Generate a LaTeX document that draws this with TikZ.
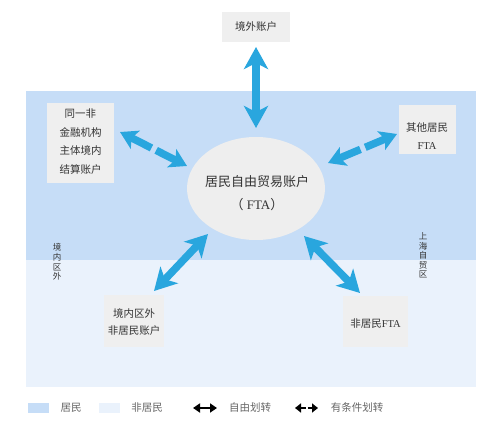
\documentclass[tikz,border=0pt]{standalone}
\usepackage{fontspec}
\setmainfont{Noto Sans CJK SC}
\newfontfamily\latinserif{Liberation Serif}
\usetikzlibrary{arrows.meta,calc,shapes.geometric}
\definecolor{resblue}{HTML}{C6DDF7}
\definecolor{nonres}{HTML}{EAF2FC}
\definecolor{boxgray}{HTML}{EFEFEF}
\definecolor{ellgray}{HTML}{EEEEEE}
\definecolor{arrowblue}{HTML}{29A6DE}
\definecolor{txt}{HTML}{333333}
\definecolor{legtxt}{HTML}{666666}
\begin{document}
\begin{tikzpicture}[x=1pt,y=-1pt,
  acctbox/.style={fill=boxgray,inner sep=0pt,draw=none},
  lbl/.style={text=txt,font=\fontsize{10.5}{18.5}\selectfont,align=center,inner sep=0pt},
  vlbl/.style={text=txt,font=\fontsize{8.5}{9.6}\selectfont,align=center,inner sep=0pt},
  legl/.style={text=legtxt,font=\fontsize{10.5}{12}\selectfont,inner sep=0pt},
  bigarrow/.style={draw=arrowblue,line width=7.5pt,
     {Stealth[length=22pt,width=24pt,inset=6pt]}-{Stealth[length=22pt,width=24pt,inset=6pt]}},
  halfarrow/.style={draw=arrowblue,line width=7.5pt,
     -{Stealth[length=17pt,width=20pt,inset=4pt]}},
  legarrow/.style={draw=black,line width=2.6pt,
     {Triangle[length=7pt,width=9pt]}-{Triangle[length=7pt,width=9pt]}},
  leghalf/.style={draw=black,line width=2.6pt,-{Triangle[length=6pt,width=9pt]}}
]
\useasboundingbox (0,0) rectangle (493,431);
\fill[white] (0,0) rectangle (493,431);
% regions
\fill[resblue] (26,91) rectangle (476,260);
\fill[nonres] (26,260) rectangle (476,387);

% account boxes
\node[acctbox,minimum width=68pt,minimum height=30pt] (topbox) at (256,27) {};
\node[lbl] (toptxt) at (256,26.5) {境外账户};

\node[acctbox,minimum width=67pt,minimum height=80pt] (leftbox) at (80.5,143) {};
\node[lbl] (lefttxt) at (80.5,141.5) {同一非\\金融机构\\主体境内\\结算账户};

\node[acctbox,minimum width=57pt,minimum height=49pt] (rightbox) at (427.5,129.5) {};
\node[lbl,font=\fontsize{10.5}{18}\selectfont] (righttxt) at (427,136) {其他居民\\{\latinserif FTA}};

\node[acctbox,minimum width=60pt,minimum height=52pt] (blbox) at (134,321) {};
\node[lbl,font=\fontsize{10.5}{16.5}\selectfont] (bltxt) at (134,322) {境内区外\\非居民账户};

\node[acctbox,minimum width=65pt,minimum height=51pt] (brbox) at (375.5,321.5) {};
\node[lbl] (brtxt) at (375.5,324) {非居民{\latinserif FTA}};

% central ellipse
\node[fill=ellgray,ellipse,minimum width=138pt,minimum height=103pt,inner sep=0pt] (ell) at (256,188.5) {};
\node[text=txt,font=\fontsize{13}{23}\selectfont,align=center,inner sep=0pt] (elltxt) at (257,193.5)
  {居民自由贸易账户\\（{\latinserif\ FTA}）};

% region labels (stacked)
\node[vlbl] (inlbl) at (57,262) {境\\内\\区\\外};
\node[vlbl] (ftzlbl) at (423,255.5) {上\\海\\自\\贸\\区};

% free transfer arrows
\coordinate (a1) at (256,47);  \coordinate (a2) at (256,128);
\draw[bigarrow] (a1) -- (a2);
\coordinate (b1) at (208,234); \coordinate (b2) at (154,291);
\draw[bigarrow] (b1) -- (b2);
\coordinate (c1) at (304,236); \coordinate (c2) at (360,293);
\draw[bigarrow] (c1) -- (c2);

% conditional transfer arrows
\coordinate (d1) at (120,132); \coordinate (d2) at (187,166);
\draw[halfarrow] ($(d1)!0.47!(d2)$) -- (d1);
\draw[halfarrow] ($(d1)!0.54!(d2)$) -- (d2);
\coordinate (e1) at (328,163); \coordinate (e2) at (397,134);
\draw[halfarrow] ($(e1)!0.47!(e2)$) -- (e1);
\draw[halfarrow] ($(e1)!0.54!(e2)$) -- (e2);

% legend
\fill[resblue] (28,403) rectangle (49,413);
\node[legl] (l1) at (71,408) {居民};
\fill[nonres] (99,403) rectangle (120,413);
\node[legl] (l2) at (147,408) {非居民};
\coordinate (f1) at (193,408); \coordinate (f2) at (217,408);
\draw[legarrow] (f1) -- (f2);
\node[legl] (l3) at (250,408) {自由划转};
\coordinate (g1) at (295,408); \coordinate (g2) at (318,408);
\draw[leghalf] (305.5,408) -- (g1);
\draw[leghalf] (307.5,408) -- (g2);
\node[legl] (l4) at (357,408) {有条件划转};
\end{tikzpicture}
\end{document}
